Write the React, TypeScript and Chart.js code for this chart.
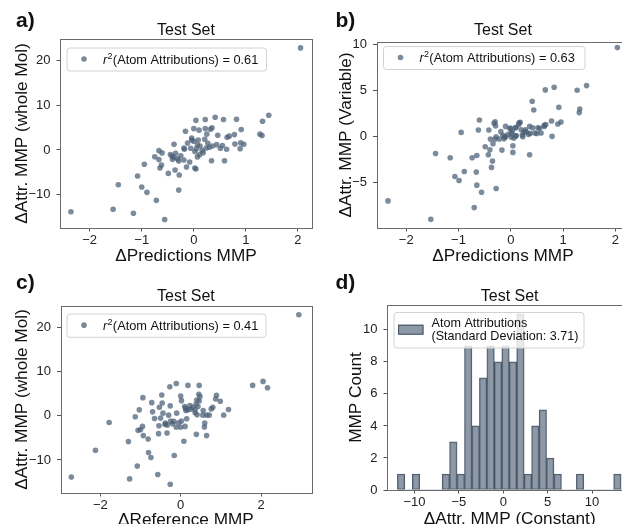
import React, { useEffect, useRef } from "react";
import { Chart, registerables } from "chart.js";

Chart.register(...registerables);

const CW = 640;
const CH = 524;
const FONT = "'Liberation Sans', Arial, Helvetica, sans-serif";

// ---------- DATA ----------
// Panel a: x = ΔPredictions MMP, y = ΔAttr. MMP (whole Mol)
const PANEL_A: [number, number][] = [
  [-2.36, -13.85], [-1.55, -13.3], [-1.45, -7.8], [-1.16, -14.2], [-1.08, -5.85], [-1.0, -8.3],
  [-0.95, -3.2], [-0.9, -9.5], [-0.72, -11.3], [-0.56, -15.6], [-0.75, -1.5], [-0.67, -0.15],
  [-0.61, -0.65], [-0.67, -2.15], [-0.65, -4.05], [-0.62, -3.35], [-0.49, -5.25], [-0.38, 1.3],
  [-0.42, -1.35], [-0.38, -1.7], [-0.35, -0.75], [-0.41, -2.1], [-0.36, -4.5], [-0.29, -2.45],
  [-0.28, -5.6], [-0.29, -9.0], [-0.16, 4.2], [-0.12, 1.55], [-0.19, 0.45], [-0.18, 0.15],
  [-0.19, -2.25], [-0.14, -3.8], [-0.31, -2.0], [-0.45, -1.0], [-0.25, -1.3],
  [2.05, 22.9], [1.44, 7.8], [1.32, 6.45], [1.27, 3.55], [1.31, 3.25], [0.82, 6.9], [0.91, 4.6],
  [0.78, 3.45], [0.96, 1.3], [0.9, 1.6], [0.89, 0.3], [0.79, 1.35], [0.68, 3.1], [0.64, 2.85],
  [0.63, 0.15], [0.59, -2.4], [0.57, 6.85], [0.51, 0.4], [0.41, 7.35], [0.46, 3.3], [0.44, 1.2],
  [0.35, 5.0], [0.32, 4.65], [0.36, 0.9], [0.34, -2.4], [0.22, 6.85], [0.22, 4.8], [0.21, 2.4],
  [0.24, 0.45], [0.27, 1.5], [0.25, 3.55], [0.04, 6.65], [0.0, 4.8], [0.1, 4.45], [0.085, 2.25],
  [0.07, 1.15], [0.04, -4.25], [0.02, -4.05], [0.11, -1.05], [0.07, -1.55], [-0.04, 2.25],
  [-0.04, 2.7], [-0.06, 0.4], [0.0, 1.95], [0.02, -0.35], [-0.08, -2.7], [0.16, -0.05],
  [0.3, 0.6], [0.12, 0.9], [0.55, 1.0], [0.05, 0.3], [0.18, -0.6],
];

// Panel b: x = ΔPredictions MMP, y = ΔAttr. MMP (Variable)
const PANEL_B: [number, number][] = [
  [-2.35, -7.03], [-1.53, -9.03], [-1.44, -1.87], [-1.07, -4.38], [-0.99, -4.81], [-1.16, -2.34],
  [-0.95, 0.42], [-0.89, -3.83], [-0.74, -2.34], [-0.7, -7.76], [-0.66, -3.9], [-0.65, -2.09],
  [-0.65, -5.32], [-0.56, -6.09], [-0.6, 1.77], [-0.62, 0.68], [-0.42, 0.68], [-0.32, 1.4],
  [-0.3, 1.56], [-0.39, -0.31], [-0.3, -0.31], [-0.34, -0.82], [-0.49, -1.14], [-0.4, -1.47],
  [-0.43, -2.02], [-0.35, -2.7], [-0.37, -3.39], [-0.28, -5.68],
  [2.04, 9.65], [1.45, 5.51], [1.27, 5.0], [1.32, 2.97], [1.31, 2.57], [0.83, 5.33], [0.66, 5.04],
  [0.41, 3.8], [0.44, 2.86], [0.92, 3.15], [0.96, 1.55], [0.9, 1.33], [0.78, 1.66], [0.79, -0.01],
  [0.67, 1.26], [0.64, 1.07], [0.58, 0.35], [0.52, 0.93], [0.46, 0.36], [0.42, 0.93], [0.36, 1.07],
  [0.34, 0.2], [0.36, -2.01], [0.28, 0.71], [0.25, 0.42], [0.22, 0.13], [0.18, 1.51], [0.15, 1.26],
  [0.09, 0.93], [0.1, 0.06], [0.04, -1.76], [0.04, -1.04], [0.06, -0.2], [0.01, -0.1], [-0.02, 0.86],
  [-0.1, 1.07], [-0.1, -0.08], [-0.17, -1.51], [-0.22, -0.31],
  [-0.29, 1.11], [-0.19, 0.5], [-0.12, -0.05], [-0.13, -0.27], [-0.28, -0.05], [0.0, 0.86],
  [0.01, 0.31], [0.1, 0.95], [0.1, 0.06], [0.16, 1.47], [0.23, -0.05], [0.29, 0.5], [0.37, 0.31],
  [0.55, 0.86], [0.64, 1.2], [-0.05, 0.2], [0.2, 0.7], [0.5, 0.3], [-0.15, 0.1], [0.03, 0.55],
];

// Panel c: x = ΔReference MMP, y = ΔAttr. MMP (whole Mol)
const PANEL_C: [number, number][] = [
  [-2.72, -13.86], [-2.12, -7.79], [-1.78, -1.5], [-1.27, -14.3], [-1.3, -5.84], [-1.08, -11.4],
  [-1.13, -0.22], [-1.03, 1.35], [-1.06, -3.3], [-1.0, -3.15], [-0.95, -2.4], [-0.94, 4.12],
  [-0.93, -4.49], [-0.81, -5.24], [-0.8, -8.31], [-0.74, -9.44], [-0.72, 2.99], [-0.7, 0.9],
  [-0.65, -0.6], [-0.57, -13.3], [-0.55, -4.04], [-0.54, -2.25], [-0.53, 1.95], [-0.5, -0.52],
  [-0.47, 4.72], [-0.46, 2.92], [-0.44, 0.6], [-0.39, -1.95], [-0.38, -1.65], [-0.34, -3.9],
  [-0.33, -2.1], [-0.3, 0.15], [-0.27, 6.6], [-0.26, -15.5], [-0.26, 2.25], [-0.17, -1.27],
  [-0.16, -9.0], [-0.11, 7.34], [-0.1, 0.6], [-0.11, -2.6], [0.0, 4.5], [0.02, 3.44], [0.0, -2.6],
  [0.02, -1.2], [0.1, 2.1], [0.13, 1.2], [0.11, -2.4],
  [2.94, 22.9], [1.79, 6.9], [2.05, 7.8], [2.16, 6.37], [1.19, 1.42], [1.07, 0.15], [0.985, 3.3],
  [0.89, 4.64], [0.87, 3.8], [0.8, 1.95], [0.76, 1.57], [0.71, 0.15], [0.645, 0.15], [0.645, -4.49],
  [0.6, -1.65], [0.59, -2.55], [0.56, 1.2], [0.55, 0.15], [0.46, 6.9], [0.45, 4.87], [0.48, 4.35],
  [0.46, 3.37], [0.4, 3.6], [0.39, -4.2], [0.43, 2.1], [0.36, 1.35], [0.38, 2.6], [0.36, 0.67],
  [0.3, 1.95], [0.23, 2.3], [0.18, 6.9], [0.17, 1.35], [0.12, 1.72], [0.15, -0.67], [0.08, -5.77],
  [0.41, 0.22], [-0.25, -1.2], [-0.05, -1.6], [0.25, 1.5], [-0.2, -1.8],
];

// Panel d: histogram of ΔAttr. MMP (Constant), 30 bins
const HIST_COUNTS = [1, 0, 1, 0, 0, 0, 1, 3, 1, 9, 4, 7, 9, 8, 9, 8, 11, 1, 4, 5, 2, 1, 0, 0, 1, 0, 0, 0, 0, 1];
const HIST_FIRST_EDGE = -11.93;
const HIST_BIN_WIDTH = 0.84;

const R2_A = "0.61";
const R2_B = "0.63";
const R2_C = "0.41";
const HIST_LEGEND = ["Atom Attributions", "(Standard Deviation: 3.71)"];

const TICKS_PRED = [-2, -1, 0, 1, 2];
const TICKS_WHOLE = [-10, 0, 10, 20];
const TICKS_VAR = [-5, 0, 5, 10];
const TICKS_REF = [-2, 0, 2];
const TICKS_HIST_X = [-10, -5, 0, 5, 10];
const TICKS_HIST_Y = [0, 2, 4, 6, 8, 10];

// ---------- STYLE ----------
const POINT_COLOR = "rgba(74,94,116,0.72)";
const BAR_FILL = "rgba(112,128,144,0.8)";
const BAR_EDGE = "rgba(47,62,80,0.85)";
const YW = 50;
const XH = 30;

type Rect = { l: number; t: number; r: number; b: number };
type Spec = {
  kind: "scatter" | "hist";
  rect: Rect;
  xMin: number; xMax: number; yMin: number; yMax: number;
  xTicks: number[]; yTicks: number[];
  letter: string; letterX: number; letterY: number;
  titleY: number;
  xLabel: string; xLabelY: number;
  yLabel: string; yLabelX: number;
  legend: { x: number; y: number; w: number; h: number };
  r2?: string;
  points?: [number, number][];
};

const fmt = (v: number) => (v < 0 ? "\u2212" + Math.abs(v) : String(v));

function scale(min: number, max: number, ticks: number[], axis: "x" | "y") {
  return {
    type: "linear" as const,
    min,
    max,
    offset: false,
    afterBuildTicks: (s: any) => {
      s.ticks = ticks.map((v) => ({ value: v }));
    },
    afterFit: (s: any) => {
      if (axis === "x") s.height = XH;
      else s.width = YW;
    },
    ticks: {
      font: { family: FONT, size: 13 },
      color: "#222",
      padding: axis === "x" ? 1 : 6,
      maxRotation: 0,
      autoSkip: false,
      callback: (v: any) => fmt(Number(v)),
    },
    grid: {
      display: true,
      drawOnChartArea: false,
      drawTicks: true,
      tickLength: 3.5,
      color: "#555",
      lineWidth: 1,
      offset: false,
    },
    border: { display: false },
  };
}

function roundRectPath(ctx: CanvasRenderingContext2D, x: number, y: number, w: number, h: number, r: number) {
  ctx.beginPath();
  ctx.moveTo(x + r, y);
  ctx.lineTo(x + w - r, y);
  ctx.arcTo(x + w, y, x + w, y + r, r);
  ctx.lineTo(x + w, y + h - r);
  ctx.arcTo(x + w, y + h, x + w - r, y + h, r);
  ctx.lineTo(x + r, y + h);
  ctx.arcTo(x, y + h, x, y + h - r, r);
  ctx.lineTo(x, y + r);
  ctx.arcTo(x, y, x + r, y, r);
  ctx.closePath();
}

function decor(spec: Spec) {
  return {
    id: "decor",
    afterDraw(chart: any) {
      const ctx: CanvasRenderingContext2D = chart.ctx;
      const a = chart.chartArea;
      ctx.save();
      // frame
      ctx.strokeStyle = "#6a6a6a";
      ctx.lineWidth = 1;
      ctx.strokeRect(Math.round(a.left) + 0.5, Math.round(a.top) + 0.5, Math.round(a.right - a.left), Math.round(a.bottom - a.top));

      const cx = (a.left + a.right) / 2;
      const cy = (a.top + a.bottom) / 2;
      ctx.fillStyle = "#111";
      ctx.textBaseline = "alphabetic";
      ctx.textAlign = "center";
      ctx.font = `16px ${FONT}`;
      ctx.fillText("Test Set", cx, spec.titleY);
      ctx.font = `17.2px ${FONT}`;
      ctx.fillText(spec.xLabel, cx, spec.xLabelY);
      ctx.save();
      ctx.translate(spec.yLabelX, cy);
      ctx.rotate(-Math.PI / 2);
      ctx.fillText(spec.yLabel, 0, 0);
      ctx.restore();
      ctx.textAlign = "left";
      ctx.font = `bold 21px ${FONT}`;
      ctx.fillText(spec.letter, spec.letterX, spec.letterY);

      // legend
      const L = spec.legend;
      roundRectPath(ctx, L.x + 0.5, L.y + 0.5, L.w, L.h, 3);
      ctx.fillStyle = "rgba(255,255,255,0.8)";
      ctx.fill();
      ctx.strokeStyle = "#d2d2d2";
      ctx.stroke();
      ctx.fillStyle = "#111";
      if (spec.kind === "scatter") {
        const my = L.y + L.h / 2;
        ctx.beginPath();
        ctx.arc(L.x + 17.5, my, 2.8, 0, Math.PI * 2);
        ctx.fillStyle = POINT_COLOR;
        ctx.fill();
        ctx.fillStyle = "#111";
        const by = my + 4.5;
        let x = L.x + 36.5;
        ctx.font = `italic 12.8px ${FONT}`;
        ctx.fillText("r", x, by);
        x += ctx.measureText("r").width + 0.3;
        ctx.font = `9px ${FONT}`;
        ctx.fillText("2", x, by - 5);
        x += ctx.measureText("2").width + 0.3;
        ctx.font = `12.8px ${FONT}`;
        ctx.fillText(`(Atom Attributions) = ${spec.r2}`, x, by);
      } else {
        const px = L.x + 4.6;
        const py = L.y + 12.7;
        ctx.fillStyle = BAR_FILL;
        ctx.fillRect(px, py, 25.4, 10);
        ctx.strokeStyle = BAR_EDGE;
        ctx.strokeRect(px + 0.5, py + 0.5, 24.4, 9);
        ctx.fillStyle = "#111";
        ctx.font = `12.6px ${FONT}`;
        ctx.fillText(HIST_LEGEND[0], L.x + 38, L.y + 15.3);
        ctx.fillText(HIST_LEGEND[1], L.x + 38, L.y + 28);
      }
      ctx.restore();
    },
  };
}

function buildConfig(spec: Spec): any {
  const R = spec.rect;
  const options: any = {
    responsive: false,
    animation: false,
    devicePixelRatio: 1,
    events: [],
    layout: { padding: { left: R.l - YW, top: R.t, right: CW - R.r, bottom: CH - R.b - XH } },
    plugins: { legend: { display: false }, title: { display: false }, tooltip: { enabled: false } },
    scales: {
      x: scale(spec.xMin, spec.xMax, spec.xTicks, "x"),
      y: scale(spec.yMin, spec.yMax, spec.yTicks, "y"),
    },
  };
  if (spec.kind === "scatter") {
    return {
      type: "scatter",
      data: {
        datasets: [
          {
            data: (spec.points || []).map(([x, y]) => ({ x, y })),
            backgroundColor: POINT_COLOR,
            pointRadius: 2.8,
            pointBorderWidth: 0,
            pointHoverRadius: 0,
            clip: false,
          },
        ],
      },
      options,
      plugins: [decor(spec)],
    };
  }
  return {
    type: "bar",
    data: {
      datasets: [
        {
          data: HIST_COUNTS.map((c, i) => ({ x: HIST_FIRST_EDGE + (i + 0.5) * HIST_BIN_WIDTH, y: c })),
          backgroundColor: BAR_FILL,
          borderColor: BAR_EDGE,
          borderWidth: (ctx: any) => (ctx.raw && ctx.raw.y > 0 ? 1 : 0),
          borderSkipped: false,
          barPercentage: 1,
          categoryPercentage: 1,
          grouped: false,
        },
      ],
    },
    options,
    plugins: [decor(spec)],
  };
}

const SPECS: Spec[] = [
  {
    kind: "scatter",
    rect: { l: 60, t: 39, r: 312, b: 228 },
    xMin: -2.57, xMax: 2.27, yMin: -17.5, yMax: 24.9,
    xTicks: TICKS_PRED, yTicks: TICKS_WHOLE,
    letter: "a)", letterX: 16, letterY: 27,
    titleY: 35,
    xLabel: "\u0394Predictions MMP", xLabelY: 261,
    yLabel: "\u0394Attr. MMP (whole Mol)", yLabelX: 26.5,
    legend: { x: 66.5, y: 47.5, w: 199.5, h: 23 },
    r2: R2_A,
    points: PANEL_A,
  },
  {
    kind: "scatter",
    rect: { l: 376.5, t: 42, r: 629.4, b: 228 },
    xMin: -2.57, xMax: 2.27, yMin: -9.98, yMax: 10.25,
    xTicks: TICKS_PRED, yTicks: TICKS_VAR,
    letter: "b)", letterX: 335.5, letterY: 27,
    titleY: 35,
    xLabel: "\u0394Predictions MMP", xLabelY: 261,
    yLabel: "\u0394Attr. MMP (Variable)", yLabelX: 350.5,
    legend: { x: 383, y: 46, w: 201.5, h: 23 },
    r2: R2_B,
    points: PANEL_B,
  },
  {
    kind: "scatter",
    rect: { l: 60.5, t: 306, r: 311.3, b: 493 },
    xMin: -2.99, xMax: 3.25, yMin: -17.5, yMax: 24.9,
    xTicks: TICKS_REF, yTicks: TICKS_WHOLE,
    letter: "c)", letterX: 16, letterY: 289,
    titleY: 301.3,
    xLabel: "\u0394Reference MMP", xLabelY: 524.5,
    yLabel: "\u0394Attr. MMP (whole Mol)", yLabelX: 26.5,
    legend: { x: 66.5, y: 313.5, w: 199, h: 23.3 },
    r2: R2_C,
    points: PANEL_C,
  },
  {
    kind: "hist",
    rect: { l: 387, t: 305, r: 632.3, b: 490 },
    xMin: -13.1, xMax: 14.53, yMin: 0, yMax: 11.55,
    xTicks: TICKS_HIST_X, yTicks: TICKS_HIST_Y,
    letter: "d)", letterX: 335.5, letterY: 289,
    titleY: 301,
    xLabel: "\u0394Attr. MMP (Constant)", xLabelY: 523.5,
    yLabel: "MMP Count", yLabelX: 361,
    legend: { x: 393.5, y: 312, w: 190, h: 35.5 },
  },
];

function Panel({ spec }: { spec: Spec }) {
  const ref = useRef<HTMLCanvasElement | null>(null);
  useEffect(() => {
    if (!ref.current) return;
    const chart = new Chart(ref.current, buildConfig(spec));
    return () => chart.destroy();
  }, [spec]);
  return (
    <canvas
      ref={ref}
      width={CW}
      height={CH}
      style={{ position: "absolute", left: 0, top: 0, width: CW, height: CH }}
    />
  );
}

export default function App() {
  return (
    <div
      style={{
        position: "absolute",
        left: 0,
        top: 0,
        width: 622,
        height: 524,
        overflow: "hidden",
        background: "#fff",
      }}
    >
      {SPECS.map((s, i) => (
        <Panel key={i} spec={s} />
      ))}
    </div>
  );
}
